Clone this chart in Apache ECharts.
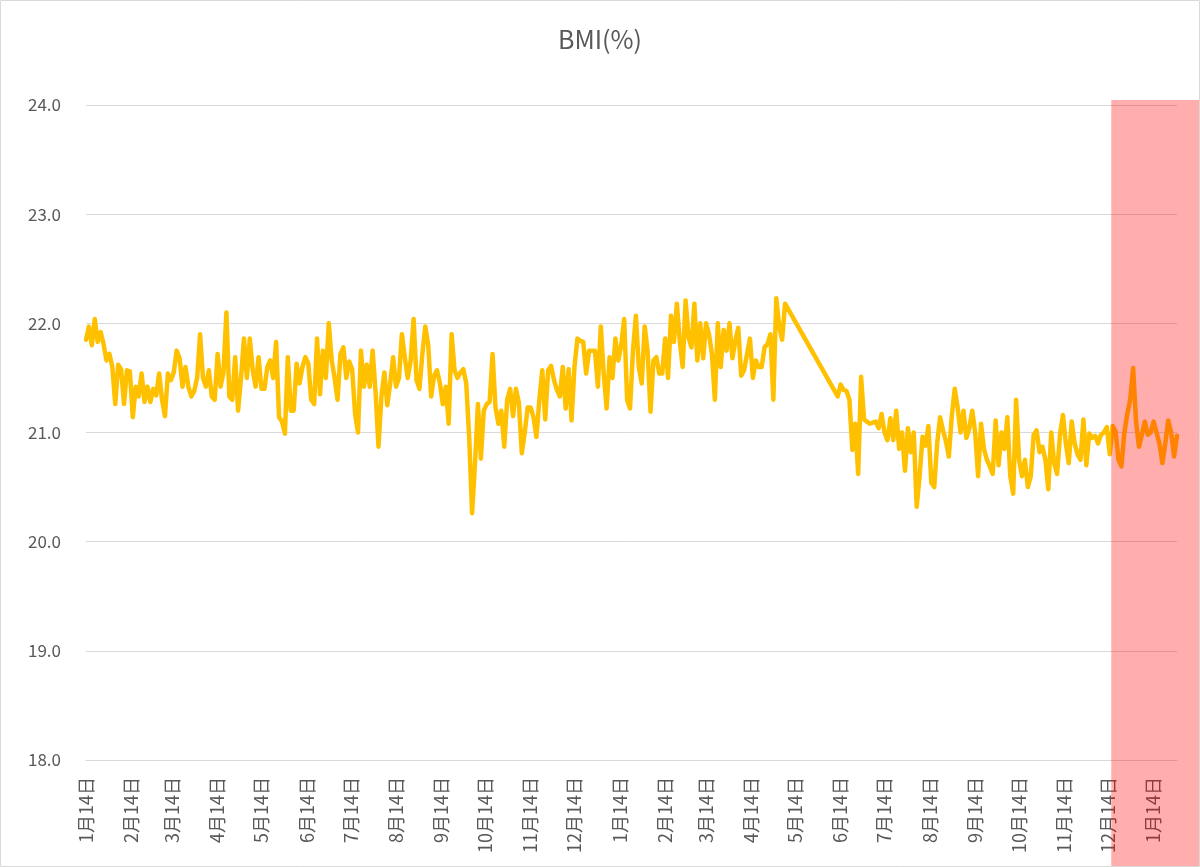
<!DOCTYPE html>
<html>
<head>
<meta charset="utf-8">
<script src="https://cdn.jsdelivr.net/npm/echarts@6/dist/echarts.min.js"></script>
<style>
html,body{margin:0;padding:0;background:#fff;}
#chart{width:1200px;height:867px;}
</style>
</head>
<body>
<div id="chart"></div>
<script>
// ---- data ----
const titleText = 'BMI(%)';
const startDate = [2022, 0, 14];     // first day on the category axis
const dayCount = 747;                // number of daily categories
const measureStep = 2;               // values below are every 2nd day
const highlightStart = '2023-12-14'; // start of the red highlighted period
const yTicks = [18, 19, 20, 21, 22, 23, 24];

// measurements from day 0 (Jan 14) up to early May of the second year
const bmiPart1Start = 0;
const bmiPart1 = [
  21.85, 21.97, 21.8, 22.04, 21.83, 21.92, 21.81, 21.66, 21.72, 21.6,
  21.26, 21.62, 21.58, 21.26, 21.57, 21.56, 21.14, 21.42, 21.33, 21.54,
  21.28, 21.42, 21.28, 21.4, 21.34, 21.54, 21.3, 21.15, 21.54, 21.48,
  21.55, 21.75, 21.68, 21.42, 21.6, 21.42, 21.33, 21.38, 21.5, 21.9,
  21.5, 21.42, 21.57, 21.33, 21.3, 21.72, 21.42, 21.55, 22.1, 21.33,
  21.3, 21.69, 21.2, 21.5, 21.86, 21.5, 21.86, 21.57, 21.42, 21.69,
  21.4, 21.4, 21.6, 21.66, 21.5, 21.83, 21.14, 21.1, 20.99, 21.69,
  21.2, 21.2, 21.63, 21.45, 21.6, 21.69, 21.63,
  21.3, 21.26, 21.86, 21.35, 21.75, 21.5, 22.0, 21.66, 21.5, 21.3,
  21.72, 21.78, 21.5, 21.65, 21.58, 21.17, 21.0, 21.75, 21.42, 21.62,
  21.42, 21.75, 21.37, 20.87, 21.33, 21.55, 21.25, 21.45, 21.69, 21.42,
  21.5, 21.9, 21.69, 21.5, 21.66, 22.04, 21.48, 21.4, 21.72, 21.97,
  21.8, 21.33, 21.52, 21.57, 21.45, 21.26, 21.42, 21.08, 21.9, 21.57,
  21.5, 21.55, 21.58, 21.45, 20.96, 20.26, 20.72, 21.26, 20.76, 21.2,
  21.26, 21.28, 21.72, 21.23, 21.08, 21.2, 20.87, 21.3, 21.4, 21.15,
  21.4, 21.27, 20.81, 21.0, 21.23,
  21.23, 21.14, 20.96, 21.3, 21.57, 21.12, 21.57, 21.61, 21.48, 21.39,
  21.33, 21.6, 21.22, 21.58, 21.11, 21.6, 21.86, 21.84, 21.83, 21.54,
  21.75, 21.75, 21.75, 21.42, 21.97, 21.54, 21.22, 21.69, 21.5, 21.86,
  21.66, 21.8, 22.04, 21.3, 21.22, 21.75, 22.07, 21.6, 21.45, 21.97,
  21.75, 21.19, 21.66, 21.69, 21.54, 21.54, 21.86, 21.5, 22.07, 21.83,
  22.18, 21.84, 21.6, 22.21, 21.87, 21.78, 22.18, 21.66, 22.0, 21.68,
  22.0, 21.9, 21.72, 21.3, 22.0, 21.6, 21.94, 21.75, 22.0, 21.68,
  21.84, 21.96, 21.52, 21.57, 21.72, 21.86, 21.5, 21.66, 21.6,
  21.6, 21.78, 21.81, 21.9, 21.3, 22.23, 21.97, 21.85, 22.18
];

// measurements from mid June of the second year to the end
const bmiPart2Start = 514;
const bmiPart2 = [
  21.33, 21.44, 21.39, 21.38, 21.3, 20.84, 21.08, 20.62, 21.51, 21.12,
  21.1, 21.08, 21.09, 21.1, 21.04, 21.17, 21.0, 20.93, 21.13, 20.93,
  21.2, 20.85, 21.0, 20.65, 21.04, 20.82, 21.0, 20.32, 20.6, 20.96,
  20.88, 21.06, 20.54, 20.5, 20.9, 21.14, 21.02, 20.92, 20.78, 21.15,
  21.4, 21.23, 21.0, 21.2, 20.95, 21.04, 21.2, 21.0, 20.6, 21.08,
  20.85, 20.75, 20.69, 20.62, 21.11, 20.7, 21.0, 20.85, 21.14, 20.6,
  20.44, 21.3, 20.75, 20.6, 20.75, 20.5, 20.6, 20.98, 21.02, 20.82,
  20.87, 20.75, 20.48, 21.0, 20.72, 20.62, 20.98, 21.16, 20.9, 20.72,
  21.1, 20.9, 20.8, 20.75, 21.12, 20.7, 20.99, 20.95, 20.97, 20.9,
  20.98, 21.0, 21.05, 20.8, 21.06, 21.01, 20.75, 20.69, 21.0, 21.17,
  21.3, 21.59, 21.1, 20.87, 20.98, 21.1, 20.98, 21.0, 21.1, 21.0,
  20.9, 20.72, 20.9, 21.11, 21.0, 20.78, 20.97
];

// ---- build categories and series ----
const categories = [];
for (let d = 0; d < dayCount; d++) {
  const dt = new Date(Date.UTC(startDate[0], startDate[1], startDate[2] + d));
  categories.push(dt.toISOString().slice(0, 10));
}
const seriesData = new Array(dayCount).fill(null);
bmiPart1.forEach((v, i) => { seriesData[bmiPart1Start + i * measureStep] = v; });
bmiPart2.forEach((v, i) => { seriesData[bmiPart2Start + i * measureStep] = v; });

const FONT = '"Noto Sans CJK JP", "Noto Sans", sans-serif';
const TEXT = '#595959';
const GRID = '#d9d9d9';

const chart = echarts.init(document.getElementById('chart'));
chart.setOption({
  animation: false,
  backgroundColor: '#ffffff',
  title: {
    text: titleText,
    left: 'center',
    top: 22,
    textStyle: { color: TEXT, fontSize: 25, fontWeight: 'normal', fontFamily: FONT }
  },
  grid: { left: 86, right: 23, top: 105, bottom: 107, containLabel: false },
  xAxis: {
    type: 'category',
    data: categories,
    boundaryGap: false,
    axisLine: { show: true, lineStyle: { color: GRID, width: 1 } },
    axisTick: { show: false },
    splitLine: { show: false },
    axisLabel: {
      rotate: 90,
      margin: 17,
      color: TEXT,
      fontSize: 18,
      fontFamily: FONT,
      interval: (idx, val) => val.slice(8) === '14',
      formatter: (val) => parseInt(val.slice(5, 7), 10) + '月14日'
    }
  },
  yAxis: {
    type: 'value',
    min: yTicks[0],
    max: yTicks[yTicks.length - 1],
    interval: 1,
    axisLine: { show: false },
    axisTick: { show: false },
    splitLine: { lineStyle: { color: GRID, width: 1 } },
    axisLabel: {
      margin: 25,
      color: TEXT,
      fontSize: 17,
      fontFamily: FONT,
      formatter: (v) => v.toFixed(1)
    }
  },
  series: [{
    type: 'line',
    data: seriesData,
    connectNulls: true,
    showSymbol: false,
    symbol: 'none',
    smooth: false,
    lineStyle: { color: '#FFC000', width: 4.5, cap: 'round', join: 'round' },
    z: 3
  }]
});

// red highlighted period overlay + chart border
const hx = chart.convertToPixel({ xAxisIndex: 0 }, highlightStart);
const hy = chart.convertToPixel({ yAxisIndex: 0 }, yTicks[yTicks.length - 1]) - 5;
chart.setOption({
  graphic: [
    {
      type: 'rect',
      z: 100,
      silent: true,
      shape: { x: hx + 3, y: hy, width: 1199 - (hx + 3), height: 867 - hy },
      style: { fill: 'rgba(255, 0, 0, 0.32)' }
    },
    {
      type: 'rect',
      z: 101,
      silent: true,
      shape: { x: 0.5, y: 0.5, width: 1199, height: 866 },
      style: { fill: 'none', stroke: GRID, lineWidth: 1 }
    }
  ]
});
</script>
</body>
</html>
